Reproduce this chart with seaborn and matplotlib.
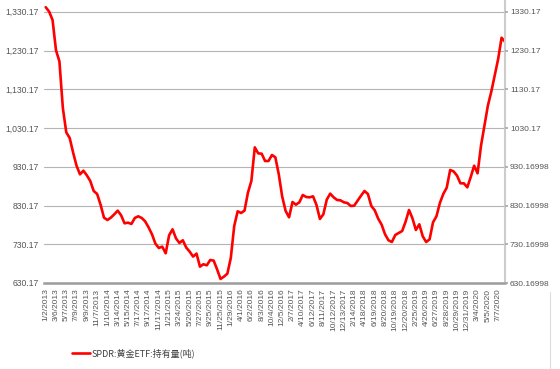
import numpy as np
import pandas as pd
import matplotlib
matplotlib.use("Agg")
import matplotlib.pyplot as plt
import seaborn as sns
from matplotlib.lines import Line2D

# Category labels shown on the x axis (one every 3 samples)
date_labels = [
    "1/2/2013", "3/6/2013", "5/7/2013", "7/9/2013", "9/9/2013", "11/7/2013",
    "1/10/2014", "3/14/2014", "5/15/2014", "7/17/2014", "9/17/2014", "11/17/2014",
    "1/21/2015", "3/24/2015", "5/26/2015", "7/27/2015", "9/25/2015", "11/25/2015",
    "1/29/2016", "4/1/2016", "6/2/2016", "8/3/2016", "10/4/2016", "12/5/2016",
    "2/7/2017", "4/10/2017", "6/12/2017", "8/11/2017", "10/12/2017", "12/13/2017",
    "2/14/2018", "4/18/2018", "6/19/2018", "8/20/2018", "10/19/2018", "12/20/2018",
    "2/25/2019", "4/26/2019", "6/27/2019", "8/28/2019", "10/29/2019", "12/31/2019",
    "3/4/2020", "5/5/2020", "7/7/2020",
]

# SPDR gold holdings (tonnes)
holdings = [
    1341.9, 1330.5, 1308.7, 1230.7, 1202.1, 1081.7, 1018.9, 1004.3, 966.5, 932.7,
    910.6, 920.0, 908.0, 893.4, 867.6, 859.9, 832.3, 798.8, 792.8, 798.8,
    807.4, 816.9, 804.9, 784.2, 785.9, 782.5, 798.0, 802.3, 798.0, 789.4,
    773.9, 755.9, 731.8, 720.6, 724.0, 706.8, 753.3, 768.7, 745.5, 733.5,
    740.4, 721.5, 711.2, 698.3, 706.0, 672.4, 678.5, 675.9, 689.6, 687.9,
    665.5, 640.6, 646.6, 654.4, 694.8, 777.3, 815.2, 810.9, 816.9, 863.3,
    893.4, 980.2, 964.7, 963.9, 945.0, 945.0, 960.5, 954.5, 910.6, 853.0,
    816.0, 799.7, 839.2, 832.3, 838.4, 857.3, 852.1, 851.3, 853.8, 831.5,
    795.4, 807.4, 845.3, 860.8, 851.3, 844.4, 843.5, 838.4, 836.6, 828.9,
    829.8, 842.6, 855.6, 867.6, 859.9, 828.9, 817.7, 796.3, 780.8, 755.9,
    740.4, 736.0, 754.2, 759.3, 764.4, 788.5, 818.6, 797.1, 767.0, 781.6,
    750.7, 736.0, 742.9, 786.8, 802.3, 836.6, 859.9, 876.2, 921.8, 918.3,
    907.2, 887.4, 887.4, 877.0, 903.7, 932.9, 913.2, 984.5, 1036.1, 1087.7,
    1123.8, 1165.9, 1208.0, 1263.1, 1252.8,
]

y_ticks = [630.17, 730.17, 830.17, 930.17, 1030.17, 1130.17, 1230.17, 1330.17]
left_labels = ["630.17", "730.17", "830.17", "930.17",
               "1,030.17", "1,130.17", "1,230.17", "1,330.17"]
right_labels = ["630.16998", "730.16998", "830.16998", "930.16998",
                "1030.17", "1130.17", "1230.17", "1330.17"]

series_name = "SPDR:黄金ETF:持有量(吨)"

sns.set_theme(style="white")
plt.rcParams["font.family"] = ["Liberation Sans", "DejaVu Sans"]

df = pd.DataFrame({"idx": np.arange(len(holdings)), "value": holdings})

fig = plt.figure(figsize=(5.6, 3.69), dpi=100)
ax = fig.add_axes([44 / 560, 1 - 283 / 369, (505 - 44) / 560, 283 / 369])

sns.lineplot(data=df, x="idx", y="value", ax=ax, color="#ff0000",
             linewidth=1.9, label=series_name, legend=False)

ax.set_xlim(-0.5, len(holdings) - 1)
ax.set_ylim(y_ticks[0], 1360.5)

ax.set_xticks(np.arange(0, 3 * len(date_labels), 3))
ax.set_xticklabels(date_labels, rotation=90, fontsize=6, color="#555555")
ax.set_yticks(y_ticks)
ax.set_yticklabels(left_labels, fontsize=6.2, color="#555555")
ax.tick_params(axis="x", length=0, pad=4)
ax.tick_params(axis="y", length=0, pad=4)
ax.set_xlabel("")
ax.set_ylabel("")

ax.grid(axis="y", color="#b4b4b4", linewidth=0.8)
ax.set_axisbelow(True)
for side in ["left", "top"]:
    ax.spines[side].set_visible(False)
ax.spines["bottom"].set_color("#9c9c9c")
ax.spines["bottom"].set_linewidth(1.8)
ax.spines["right"].set_color("#cccccc")
ax.spines["right"].set_linewidth(1.5)

ax2 = ax.twinx()
ax2.set_ylim(ax.get_ylim())
ax2.set_yticks(y_ticks)
ax2.set_yticklabels(right_labels, fontsize=6.0, color="#555555")
ax2.tick_params(axis="y", length=2.5, color="#aaaaaa", pad=1)
ax2.grid(False)
for side in ["left", "top", "bottom", "right"]:
    ax2.spines[side].set_visible(False)

# legend below the axis
handle = Line2D([], [], color="#ff0000", linewidth=1.9)
leg = fig.legend([handle], [series_name], loc="center left",
                 bbox_to_anchor=(64 / 560, 1 - 353 / 369), frameon=False,
                 handlelength=2.0, handletextpad=0.1,
                 prop={"family": ["Noto Sans CJK SC", "DejaVu Sans"], "size": 6.5})
for t in leg.get_texts():
    t.set_color("#404040")

# faint outer chart frame at the lower right
fig.add_artist(Line2D([550 / 560, 550 / 560], [0, 1 - 292 / 369], color="#dddddd",
                      linewidth=0.8, transform=fig.transFigure))

fig.savefig("out.png", dpi=100)
